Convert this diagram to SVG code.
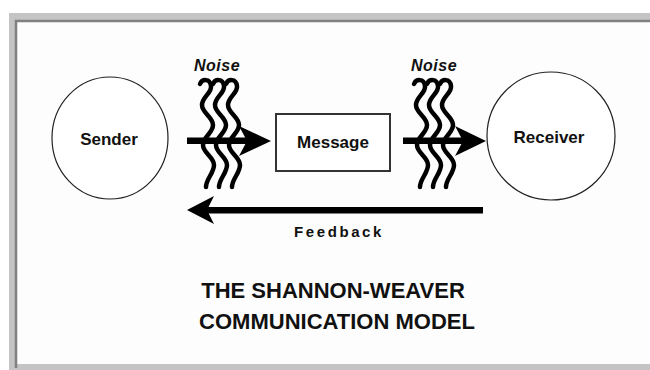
<svg xmlns="http://www.w3.org/2000/svg" width="650" height="370" viewBox="0 0 650 370">
<defs>
<style>
.node{fill:#fff;stroke:#222;stroke-width:1.2}
.box{fill:#fff;stroke:#333;stroke-width:2}
.lbl{font-family:"Liberation Sans",Arial,sans-serif;font-weight:bold;font-size:17px;fill:#111;text-anchor:middle}
.noise{font-family:"Liberation Sans",Arial,sans-serif;font-weight:bold;font-style:italic;font-size:16px;fill:#111;text-anchor:middle;letter-spacing:0.5px}
.title{font-family:"Liberation Sans",Arial,sans-serif;font-weight:bold;font-size:22px;fill:#111;text-anchor:middle}
.fb{font-family:"Liberation Sans",Arial,sans-serif;font-weight:bold;font-size:15px;fill:#111;text-anchor:middle;letter-spacing:2.6px}
.sq{fill:none;stroke:#000;stroke-width:4.5;stroke-linecap:round}
.shaft{fill:#000}
</style>
<path id="squig" d="M0,4 C2,-1 10,-2 11,6 C12,13 2,17 2,25 C2,33 13,37 13,45 C13,53 3,57 3,65 C3,73 14,77 14,85 C14,93 6,99 6,107"/>
</defs>
<rect x="0" y="0" width="650" height="370" fill="#fff"/>
<g id="frame">
<rect x="13" y="17" width="660" height="351" fill="#fdfdfd" stroke="#c4c4c4" stroke-width="8"/>
<path d="M16,368 V21 H660" fill="none" stroke="#808080" stroke-width="2.5"/>
</g>
<g id="connectors">
<g id="arrow-sender-message">
<rect class="shaft" x="187" y="137.5" width="62" height="6.5"/>
<polygon class="shaft" points="271,141 239,126 247,141 239,156"/>
</g>
<g id="arrow-message-receiver">
<rect class="shaft" x="403" y="137.5" width="62" height="6.5"/>
<polygon class="shaft" points="486,141 455,126 463,141 455,156"/>
</g>
<g id="arrow-feedback">
<rect class="shaft" x="205" y="207" width="278" height="6.5"/>
<polygon class="shaft" points="187,210 214,196 207,210 214,224"/>
</g>
</g>
<g id="noise-1">
<use href="#squig" class="sq" x="200" y="80"/>
<use href="#squig" class="sq" x="213" y="80"/>
<use href="#squig" class="sq" x="226" y="80"/>
<text class="noise" x="217" y="71">Noise</text>
</g>
<g id="noise-2">
<use href="#squig" class="sq" x="414" y="80"/>
<use href="#squig" class="sq" x="427" y="80"/>
<use href="#squig" class="sq" x="440" y="80"/>
<text class="noise" x="434" y="71">Noise</text>
</g>
<g id="sender">
<ellipse class="node" cx="110" cy="138" rx="58" ry="61"/>
<text class="lbl" x="109" y="145">Sender</text>
</g>
<g id="message">
<rect class="box" x="276" y="114" width="114" height="57"/>
<text class="lbl" x="333" y="148">Message</text>
</g>
<g id="receiver">
<ellipse class="node" cx="551" cy="136" rx="64" ry="64"/>
<text class="lbl" x="549" y="143">Receiver</text>
</g>
<g id="feedback-label">
<text class="fb" x="339" y="237">Feedback</text>
</g>
<g id="title">
<text class="title" x="333" y="298">THE SHANNON-WEAVER</text>
<text class="title" x="337" y="329">COMMUNICATION MODEL</text>
</g>
</svg>
